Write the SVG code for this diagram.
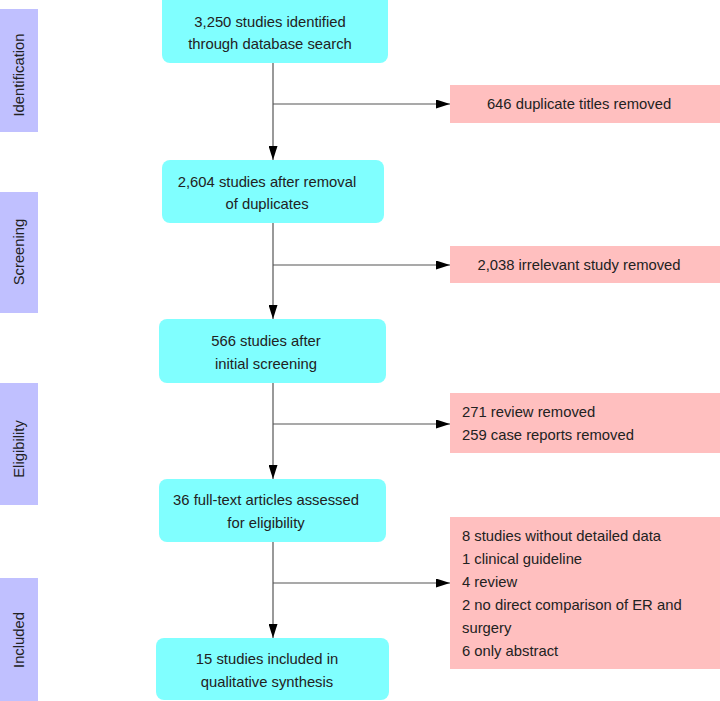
<svg xmlns="http://www.w3.org/2000/svg" width="720" height="701" viewBox="0 0 720 701">
<style>
text{font-family:"Liberation Sans",Arial,sans-serif;font-size:14.8px;fill:#222}
.c{text-anchor:middle}
.box{fill:#80ffff}
.ex{fill:#ffbfbf}
.side{fill:#c0c0ff}
.ln{stroke:#555;stroke-width:1.2;fill:none}
</style>
<defs>
<marker id="ah" viewBox="0 0 10 10" refX="10" refY="5" markerWidth="14" markerHeight="9" markerUnits="userSpaceOnUse" orient="auto" preserveAspectRatio="none">
<path d="M0,0 L10,5 L0,10 Z" fill="#000"/>
</marker>
</defs>
<rect width="720" height="701" fill="#fff"/>
<g id="sides">
<g id="side-identification"><rect class="side" x="0" y="9" width="38" height="123"/><text class="c" transform="translate(24,75) rotate(-90)">Identification</text></g>
<g id="side-screening"><rect class="side" x="0" y="192" width="38" height="121"/><text class="c" transform="translate(24,252) rotate(-90)">Screening</text></g>
<g id="side-eligibility"><rect class="side" x="0" y="383" width="38" height="122"/><text class="c" transform="translate(24,449) rotate(-90)">Eligibility</text></g>
<g id="side-included"><rect class="side" x="0" y="578" width="38" height="123"/><text class="c" transform="translate(24,640) rotate(-90)">Included</text></g>
</g>
<g id="connectors">
<line class="ln" x1="273" y1="63" x2="273" y2="160" marker-end="url(#ah)"/>
<line class="ln" x1="273" y1="104" x2="450" y2="104" marker-end="url(#ah)"/>
<line class="ln" x1="273" y1="223" x2="273" y2="319" marker-end="url(#ah)"/>
<line class="ln" x1="273" y1="265" x2="450" y2="265" marker-end="url(#ah)"/>
<line class="ln" x1="273" y1="383" x2="273" y2="479" marker-end="url(#ah)"/>
<line class="ln" x1="273" y1="424" x2="450" y2="424" marker-end="url(#ah)"/>
<line class="ln" x1="273" y1="542" x2="273" y2="638" marker-end="url(#ah)"/>
<line class="ln" x1="273" y1="583" x2="450" y2="583" marker-end="url(#ah)"/>
</g>
<g id="n1"><rect class="box" x="162" y="-8" width="226" height="71" rx="8"/><text class="c" x="270" y="27">3,250 studies identified</text><text class="c" x="270" y="49">through database search</text></g>
<g id="n2"><rect class="box" x="162" y="160" width="222" height="63" rx="8"/><text class="c" x="267" y="187">2,604 studies after removal</text><text class="c" x="267" y="209">of duplicates</text></g>
<g id="n3"><rect class="box" x="159" y="319" width="227" height="64" rx="8"/><text class="c" x="266" y="346">566 studies after</text><text class="c" x="266" y="369">initial screening</text></g>
<g id="n4"><rect class="box" x="159" y="479" width="227" height="63" rx="8"/><text class="c" x="266" y="505">36 full-text articles assessed</text><text class="c" x="266" y="528">for eligibility</text></g>
<g id="n5"><rect class="box" x="156" y="638" width="233" height="62" rx="8"/><text class="c" x="267" y="664">15 studies included in</text><text class="c" x="267" y="687">qualitative synthesis</text></g>
<g id="e1"><rect class="ex" x="450" y="85" width="270" height="38"/><text class="c" x="579" y="109">646 duplicate titles removed</text></g>
<g id="e2"><rect class="ex" x="450" y="246" width="270" height="37"/><text class="c" x="579" y="270">2,038 irrelevant study removed</text></g>
<g id="e3"><rect class="ex" x="450" y="393" width="270" height="60"/><text x="462" y="417">271 review removed</text><text x="462" y="440">259 case reports removed</text></g>
<g id="e4"><rect class="ex" x="450" y="517" width="270" height="152"/>
<text x="462" y="541">8 studies without detailed data</text>
<text x="462" y="564">1 clinical guideline</text>
<text x="462" y="587">4 review</text>
<text x="462" y="610">2 no direct comparison of ER and</text>
<text x="462" y="633">surgery</text>
<text x="462" y="656">6 only abstract</text>
</g>
</svg>
